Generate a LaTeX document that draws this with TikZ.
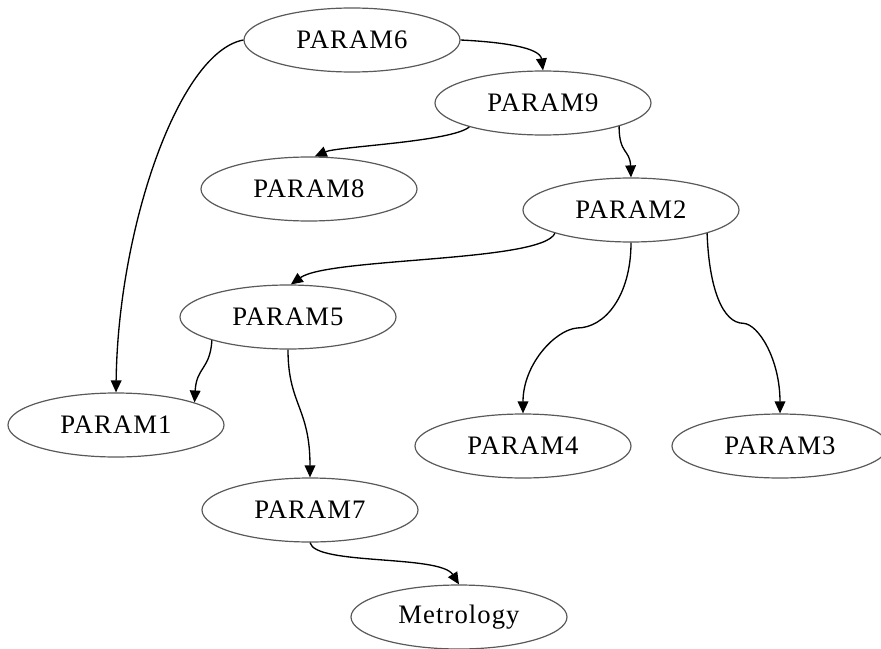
\documentclass[tikz,border=0pt]{standalone}
\usepackage{fontspec}
\setmainfont{Liberation Serif}[LetterSpace=4]
\usetikzlibrary{shapes.geometric,arrows.meta,calc}
\begin{document}
\begin{tikzpicture}[x=0.75pt,y=-0.75pt,
  pn/.style={ellipse,draw=black!65,line width=0.9pt,minimum width=162pt,
             minimum height=48pt,inner sep=0pt,font=\fontsize{20}{24}\selectfont},
  link/.style={draw=black,line width=1pt,-{Triangle[length=9pt,width=8pt]}}]
\useasboundingbox (0,0) rectangle (881,649);

% parameter nodes
\node[pn] (p6)  at (352,40)  {PARAM6};
\node[pn] (p9)  at (543,103) {PARAM9};
\node[pn] (p8)  at (309,189) {PARAM8};
\node[pn] (p2)  at (631,210) {PARAM2};
\node[pn] (p5)  at (288,317) {PARAM5};
\node[pn] (p1)  at (116,425) {PARAM1};
\node[pn] (p4)  at (523,446) {PARAM4};
\node[pn] (p3)  at (780,446) {PARAM3};
\node[pn] (p7)  at (310,510) {PARAM7};
\node[pn] (met) at (459,617) {Metrology};

% dependencies
\draw[link] (p6.east) .. controls +(41,2) and +(-3,-23) .. (p9.north);
\draw[link] (p6.west) .. controls +(-65,12) and +(2,-163) .. (p1.north);
\draw[link] (p9.198) .. controls +(-18,15) and +(23,-10) .. (p8.80);
\draw[link] (p9.343) .. controls +(0,28) and +(-1,-28) .. (p2.north);
\draw[link] (p2.197) .. controls +(-13,29) and +(38,-27) .. (p5.85);
\draw[link] (p2.south) .. controls +(0,53) and +(28,0) .. ($(p2.south)!0.5!(p4.north)$)
            .. controls +(-22,2) and +(0,-49) .. (p4.north);
\draw[link] (p2.343.5) .. controls +(2,55) and +(-21,0) .. ($(p2.343.5)!0.5!(p3.north)$)
            .. controls +(15,1) and +(0,-54) .. (p3.north);
\draw[link] (p5.197) .. controls +(-2,30) and +(2,-36) .. (p1.16);
\draw[link] (p5.south) .. controls +(0,55) and +(0,-70) .. (p7.north);
\draw[link] (p7.south) .. controls +(5,23) and +(-19,-30) .. (met.north);
\end{tikzpicture}
\end{document}
